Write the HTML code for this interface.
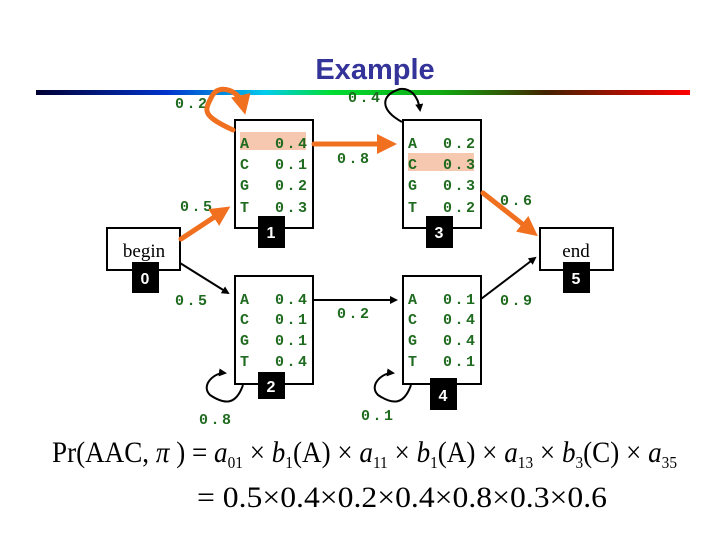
<!DOCTYPE html>
<html><head><meta charset="utf-8"><style>
html,body{margin:0;padding:0;background:#fff;}
svg{display:block;}
.m{font-family:"Liberation Mono",monospace;font-weight:bold;font-size:15px;fill:#1f6b1f;letter-spacing:2.5px;}
.lb{font-family:"Liberation Sans",sans-serif;font-weight:bold;font-size:16px;fill:#fff;}
.eq{font-family:"Liberation Serif",serif;font-size:30px;fill:#000;}
</style></head><body>
<svg width="720" height="540" viewBox="0 0 720 540" xmlns="http://www.w3.org/2000/svg">
<defs>
<linearGradient id="g" x1="0" x2="1">
<stop offset="0" stop-color="#000033"/><stop offset="0.2" stop-color="#0033cc"/>
<stop offset="0.35" stop-color="#00ccee"/><stop offset="0.45" stop-color="#00dd33"/>
<stop offset="0.62" stop-color="#11aa11"/><stop offset="0.78" stop-color="#442200"/>
<stop offset="1" stop-color="#ff0000"/></linearGradient>
<marker id="ao" markerWidth="4" markerHeight="4" refX="2" refY="2" orient="auto"><path d="M0,0L4,2L0,4z" fill="#f07020"/></marker>
<marker id="ab" markerWidth="8" markerHeight="8" refX="6" refY="4" orient="auto" markerUnits="userSpaceOnUse"><path d="M0,0L8,4L0,8z" fill="#000"/></marker>
</defs>
<text x="375" y="79" text-anchor="middle" font-family="Liberation Sans,sans-serif" font-weight="bold" font-size="29" fill="#333399">Example</text>
<rect x="36" y="90" width="654" height="5" fill="url(#g)"/>

<g fill="#fff" stroke="#000" stroke-width="2">
<rect x="235" y="120" width="78" height="108"/>
<rect x="403" y="120" width="78" height="108"/>
<rect x="235" y="276" width="78" height="108"/>
<rect x="403" y="276" width="78" height="108"/>
<rect x="107" y="228" width="73" height="42"/>
<rect x="540" y="228" width="73" height="42"/>
</g>
<rect x="240" y="132" width="66" height="18" fill="#f7c8b0"/>
<rect x="408" y="153" width="66" height="18" fill="#f7c8b0"/>

<g class="m">
<text x="240" y="148">A</text><text x="275" y="148">0.4</text>
<text x="240" y="169">C</text><text x="275" y="169">0.1</text>
<text x="240" y="190">G</text><text x="275" y="190">0.2</text>
<text x="240" y="212">T</text><text x="275" y="212">0.3</text>
<text x="408" y="148">A</text><text x="443" y="148">0.2</text>
<text x="408" y="169">C</text><text x="443" y="169">0.3</text>
<text x="408" y="190">G</text><text x="443" y="190">0.3</text>
<text x="408" y="212">T</text><text x="443" y="212">0.2</text>
<text x="240" y="304">A</text><text x="275" y="304">0.4</text>
<text x="240" y="324">C</text><text x="275" y="324">0.1</text>
<text x="240" y="345">G</text><text x="275" y="345">0.1</text>
<text x="240" y="366">T</text><text x="275" y="366">0.4</text>
<text x="408" y="304">A</text><text x="443" y="304">0.1</text>
<text x="408" y="324">C</text><text x="443" y="324">0.4</text>
<text x="408" y="345">G</text><text x="443" y="345">0.4</text>
<text x="408" y="366">T</text><text x="443" y="366">0.1</text>
<text x="175" y="108">0.2</text><text x="348" y="102">0.4</text><text x="180" y="211">0.5</text>
<text x="337" y="163">0.8</text><text x="500" y="205">0.6</text><text x="175" y="305">0.5</text>
<text x="337" y="318">0.2</text><text x="500" y="305">0.9</text><text x="199" y="424">0.8</text><text x="361" y="420">0.1</text>
</g>

<g font-family="Liberation Serif,serif" font-size="19" text-anchor="middle">
<text x="144" y="257">begin</text><text x="576" y="257">end</text></g>

<g fill="#000">
<rect x="258" y="216" width="27" height="32"/><rect x="426" y="216" width="27" height="32"/>
<rect x="132" y="262" width="27" height="31"/><rect x="563" y="262" width="27" height="31"/>
<rect x="258" y="372" width="27" height="27"/><rect x="430" y="378" width="27" height="32"/>
</g>
<g class="lb" text-anchor="middle">
<text x="271" y="238">1</text><text x="439" y="238">3</text><text x="145" y="284">0</text>
<text x="576" y="284">5</text><text x="271" y="392">2</text><text x="443" y="401">4</text></g>

<g stroke="#f07020" stroke-width="5" fill="none" stroke-linecap="round">
<path d="M181,239 L222,212" marker-end="url(#ao)"/>
<path d="M314,144 L387,144" marker-end="url(#ao)"/>
<path d="M483,193 L530,230" marker-end="url(#ao)"/>
<path d="M233,130 C 200,115 205,110 212,96 C220,82 240,92 243,105" marker-end="url(#ao)"/>
</g>
<g stroke="#000" stroke-width="2" fill="none">
<path d="M180,263 L228,293" marker-end="url(#ab)"/>
<path d="M313,300 L396,300" marker-end="url(#ab)"/>
<path d="M481,299 L535,258" marker-end="url(#ab)"/>
<path d="M402,122 C 380,110 380,95 400,89 C410,88 418,95 420,110" marker-end="url(#ab)"/>
<path d="M243,385 C 236,405 225,405 210,395 C200,385 215,372 225,373" marker-end="url(#ab)"/>
<path d="M411,385 C 404,405 393,405 378,395 C368,385 383,372 393,373" marker-end="url(#ab)"/>
</g>

<text class="eq" x="52" y="462" textLength="625" lengthAdjust="spacingAndGlyphs">Pr(AAC, <tspan font-style="italic">π</tspan> ) = <tspan font-style="italic">a</tspan><tspan font-size="17" dy="6">01</tspan><tspan dy="-6"> × </tspan><tspan font-style="italic">b</tspan><tspan font-size="17" dy="6">1</tspan><tspan dy="-6">(A) × </tspan><tspan font-style="italic">a</tspan><tspan font-size="17" dy="6">11</tspan><tspan dy="-6"> × </tspan><tspan font-style="italic">b</tspan><tspan font-size="17" dy="6">1</tspan><tspan dy="-6">(A) × </tspan><tspan font-style="italic">a</tspan><tspan font-size="17" dy="6">13</tspan><tspan dy="-6"> × </tspan><tspan font-style="italic">b</tspan><tspan font-size="17" dy="6">3</tspan><tspan dy="-6">(C) × </tspan><tspan font-style="italic">a</tspan><tspan font-size="17" dy="6">35</tspan></text>
<text class="eq" x="197" y="507" textLength="410" lengthAdjust="spacingAndGlyphs">= 0.5×0.4×0.2×0.4×0.8×0.3×0.6</text>
</svg>
</body></html>
